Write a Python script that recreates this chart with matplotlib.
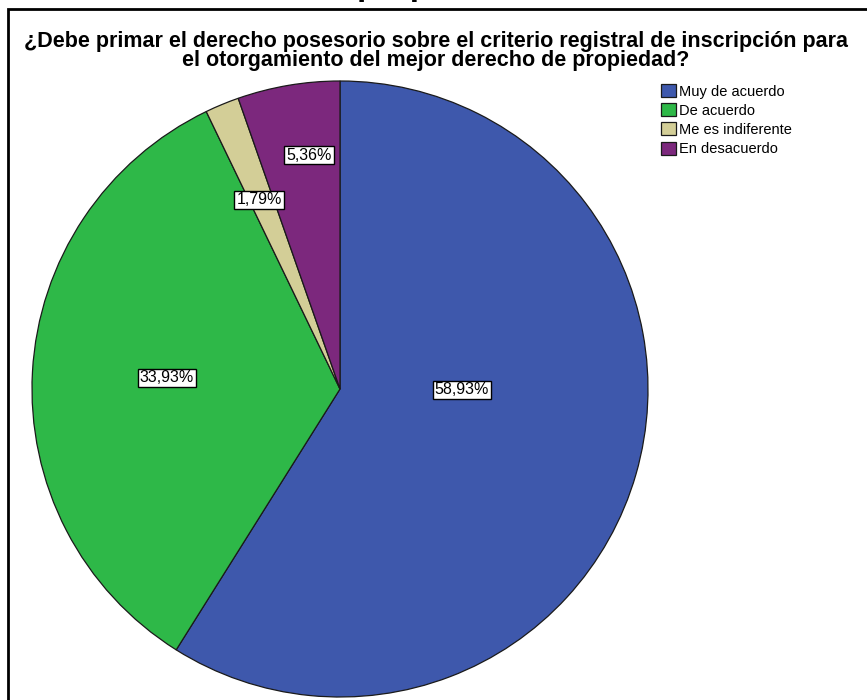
import matplotlib.pyplot as plt
from matplotlib.patches import Rectangle

plt.rcParams['font.family'] = ['Liberation Sans', 'DejaVu Sans']

# datos
categorias = ['Muy de acuerdo', 'De acuerdo', 'Me es indiferente', 'En desacuerdo']
porcentajes = [58.93, 33.93, 1.79, 5.36]
colores = ['#3E58AC', '#2EB848', '#D3CE97', '#7C287D']
titulo = ('¿Debe primar el derecho posesorio sobre el criterio registral de inscripción para\n'
          'el otorgamiento del mejor derecho de propiedad?')

# posiciones de las etiquetas (pixeles)
pos_etiquetas = [(462, 390), (167, 378), (259, 200), (309, 155)]

W, H = 867, 700
fig = plt.figure(figsize=(W / 100, H / 100), dpi=100)
ax = fig.add_axes([0, 0, 1, 1])
ax.set_xlim(0, W)
ax.set_ylim(0, H)
ax.set_aspect('equal')
ax.axis('off')

# marco del grafico
ax.add_patch(Rectangle((8, -10), W + 20, H - 9 + 10, fill=False, lw=2, ec='black'))

# titulo cortado de arriba
fig.text(0.504, 1.007, 'propiedad', fontsize=24, fontweight='bold', ha='center', va='baseline')

wedges, _ = ax.pie(porcentajes, colors=colores, startangle=90, counterclock=False,
                   center=(340, H - 389), radius=308,
                   wedgeprops=dict(edgecolor='#1a1a1a', linewidth=0.9))
ax.set_xlim(0, W)
ax.set_ylim(0, H)

for p, (x, y) in zip(porcentajes, pos_etiquetas):
    txt = f'{p:.2f}%'.replace('.', ',')
    ax.text(x, H - y, txt, fontsize=11.5, ha='center', va='center',
            bbox=dict(boxstyle='square,pad=0.12', fc='white', ec='black', lw=1))

ax.text(436, H - 51, titulo, fontsize=15.5, fontweight='bold', ha='center', va='center',
        linespacing=0.9)

ax.legend(wedges, categorias, loc='upper left', bbox_to_anchor=(661 / W, 1 - 84 / H),
          bbox_transform=fig.transFigure, frameon=False, fontsize=10.5,
          handlelength=1.0, handleheight=1.0, handletextpad=0.25, labelspacing=0.32,
          borderpad=0, borderaxespad=0)

fig.savefig('out.png', dpi=100)
